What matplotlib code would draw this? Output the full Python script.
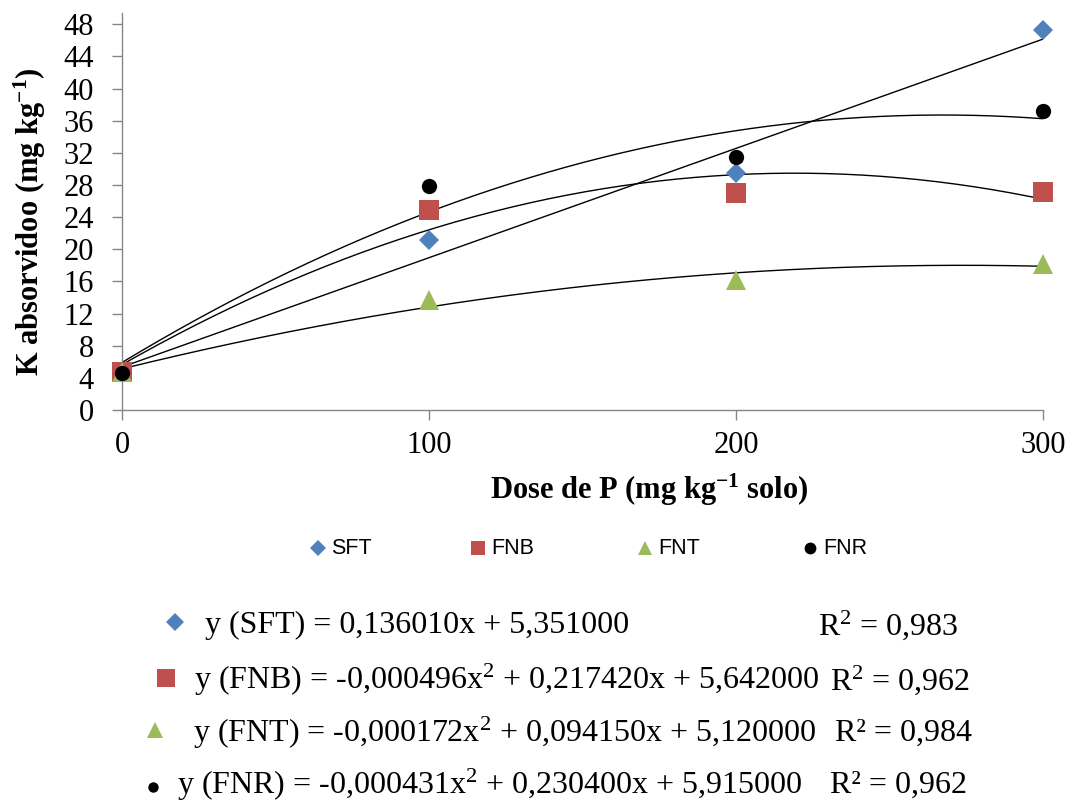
import numpy as np
import matplotlib
matplotlib.use("Agg")
import matplotlib.pyplot as plt
from matplotlib.lines import Line2D

plt.rcParams["font.family"] = ["Liberation Serif", "DejaVu Serif"]
plt.rcParams["mathtext.fontset"] = "custom"
plt.rcParams["mathtext.rm"] = "Liberation Serif"
plt.rcParams["mathtext.bf"] = "Liberation Serif:bold"
plt.rcParams["mathtext.default"] = "regular"

# P doses (mg kg-1 soil)
doses = [0, 100, 200, 300]

# Absorbed K (mg kg-1) per P source
sft = [4.7, 21.1, 29.5, 47.3]
fnb = [4.7, 24.9, 27.0, 27.1]
fnt = [4.7, 13.7, 16.2, 18.2]
fnr = [4.6, 27.9, 31.5, 37.2]

# Fitted regression coefficients (highest power first) and R²
coef_sft = [0.136010, 5.351000]
coef_fnb = [-0.000496, 0.217420, 5.642000]
coef_fnt = [-0.000172, 0.094150, 5.120000]
coef_fnr = [-0.000431, 0.230400, 5.915000]
r2_values = ["0,983", "0,962", "0,984", "0,962"]

series_names = ["SFT", "FNB", "FNT", "FNR"]
yticks = list(range(0, 49, 4))
xticks = [0, 100, 200, 300]

blue, red, green, black = "#4F81BD", "#C0504D", "#9BBB59", "#000000"
styles = [
    dict(marker="D", color=blue, ms=10.5),
    dict(marker="s", color=red, ms=15),
    dict(marker="^", color=green, ms=15),
    dict(marker="o", color=black, ms=11),
]

W, H = 1072, 808
fig = plt.figure(figsize=(W / 100, H / 100), dpi=100)
ax = fig.add_axes([122 / W, 1 - 410 / H, (1043 - 122) / W, (410 - 13) / H])


def fx(px):
    return px / W


def fy(py):
    return 1 - py / H


grey = "#868686"
xs = np.linspace(0, 300, 200)
all_values = [sft, fnb, fnt, fnr]
all_coefs = [coef_sft, coef_fnb, coef_fnt, coef_fnr]

for coefs in all_coefs:
    ax.plot(xs, np.polyval(coefs, xs), color="black", lw=1.0, zorder=2)

for vals, st in zip(all_values, styles):
    ax.plot(doses, vals, linestyle="none", marker=st["marker"], ms=st["ms"],
            color=st["color"], markeredgewidth=0, zorder=3, clip_on=False)

ax.set_xlim(0, 300)
ax.set_ylim(0, 49.4)
ax.set_xticks(xticks)
ax.set_yticks(yticks)
ax.tick_params(axis="both", direction="out", length=7.2, width=1.0,
               color=grey, labelsize=22)
ax.tick_params(axis="y", pad=13)
ax.tick_params(axis="x", pad=8)
for side in ("top", "right"):
    ax.spines[side].set_visible(False)
for side in ("left", "bottom"):
    ax.spines[side].set_color(grey)
    ax.spines[side].set_linewidth(1.0)

ax.set_ylabel("K absorvidoo (mg kg$^{-1}$)", fontsize=22, fontweight="bold",
              va="center")
ax.yaxis.set_label_coords((30 - 122) / 921, (410 - 222) / 397)
ax.set_xlabel("Dose de P (mg kg$^{-1}$ solo)", fontsize=22,
              fontweight="bold", va="center")
ax.xaxis.set_label_coords((649 - 122) / 921, (410 - 490) / 397)

# Series key row
legend_font = dict(family=["Liberation Sans Narrow", "Liberation Sans"],
                   fontsize=15.5)
key_x = [318, 478, 645, 810]
key_ms = [8, 9.5, 10.5, 8.5]
for name, st, kx, kms in zip(series_names, styles, key_x, key_ms):
    fig.add_artist(Line2D([fx(kx)], [fy(548)], transform=fig.transFigure,
                          marker=st["marker"], ms=kms, color=st["color"],
                          markeredgewidth=0, linestyle="none"))
    fig.text(fx(kx + 13), fy(548), name, va="center", ha="left",
             **legend_font)


def num(v):
    return f"{abs(v):.6f}".replace(".", ",")


def equation(name, coefs):
    if len(coefs) == 2:
        return f"y ({name}) = {num(coefs[0])}x + {num(coefs[1])}"
    a, b, c = coefs
    sign = "-" if a < 0 else ""
    return (f"y ({name}) = {sign}{num(a)}x$^2$ + {num(b)}x + {num(c)}")


eq_rows = [625, 680, 733, 785]
eq_text_x = [205, 194, 193, 177]
eq_marker_x = [175, 166, 155, 153]
eq_marker_y = [622, 678, 730, 787]
eq_ms = [9, 12.5, 11, 7.5]
r2_end_x = [958, 970, 972, 967]
r2_label = ["R$^2$", "R$^2$", "R²", "R²"]

for i, (name, coefs, st) in enumerate(zip(series_names, all_coefs, styles)):
    fig.add_artist(Line2D([fx(eq_marker_x[i])], [fy(eq_marker_y[i])],
                          transform=fig.transFigure, marker=st["marker"],
                          ms=eq_ms[i], color=st["color"], markeredgewidth=0,
                          linestyle="none"))
    fig.text(fx(eq_text_x[i]), fy(eq_rows[i]), equation(name, coefs),
             fontsize=23, va="center", ha="left")
    fig.text(fx(r2_end_x[i]), fy(eq_rows[i]),
             f"{r2_label[i]} = {r2_values[i]}",
             fontsize=23, va="center", ha="right")

fig.savefig("out.png", dpi=100, facecolor="white")
